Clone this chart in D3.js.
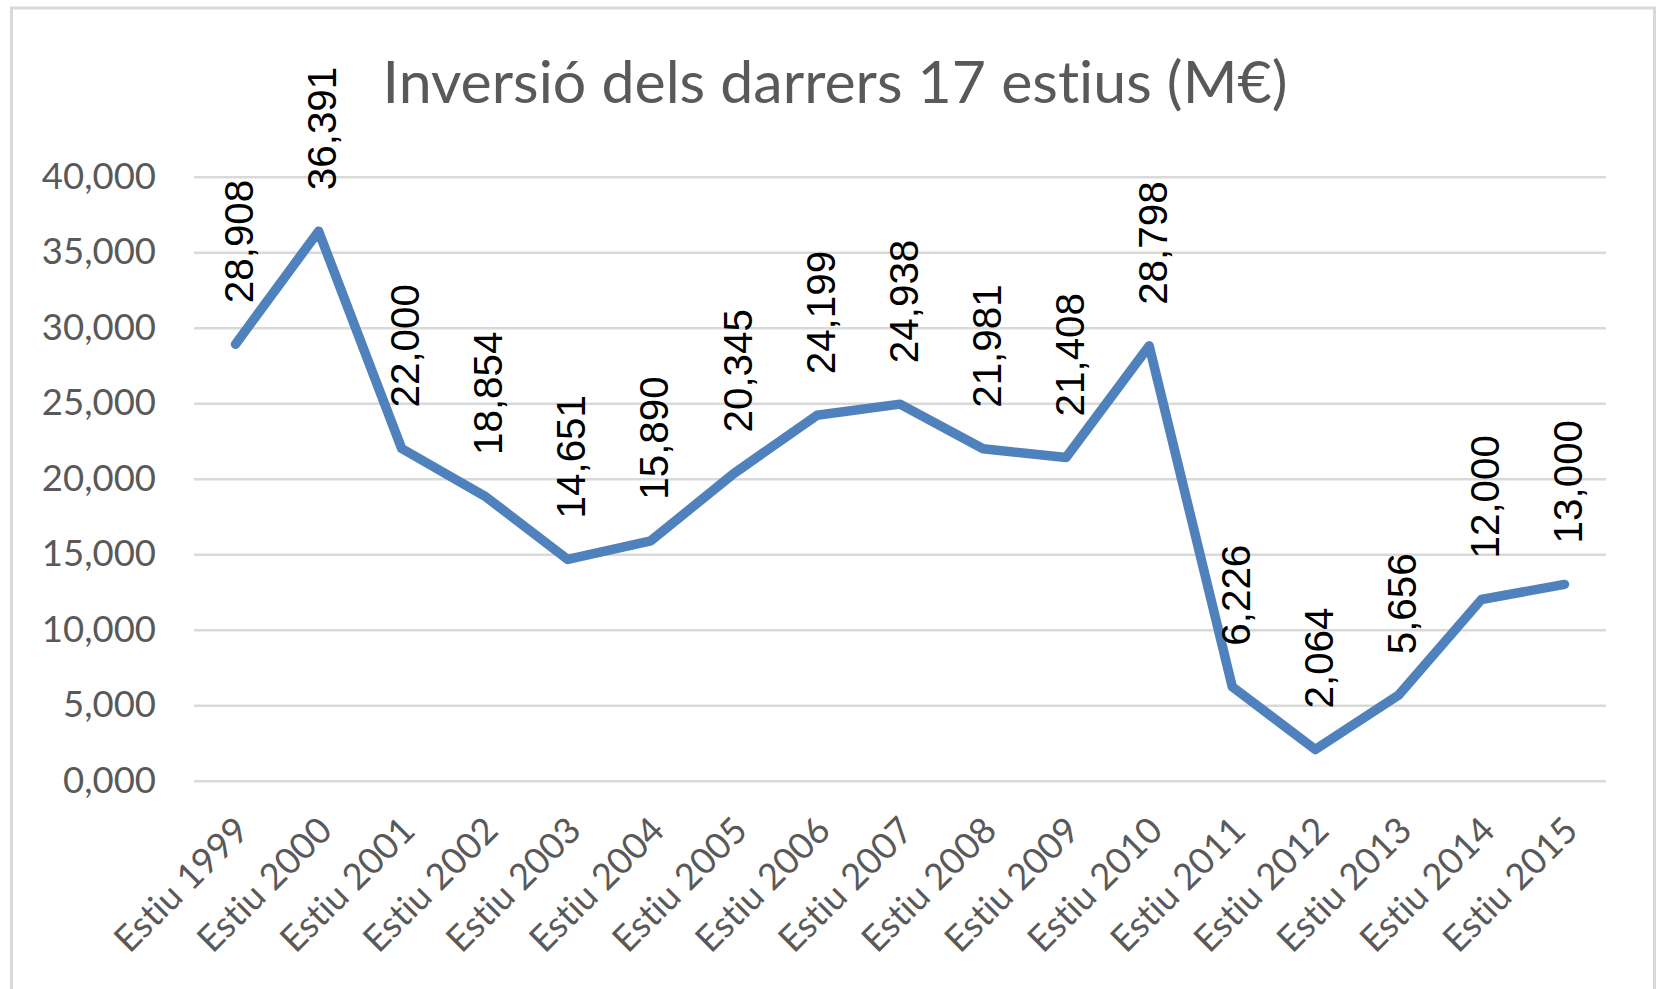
<!DOCTYPE html>
<html>
<head>
<meta charset="utf-8">
<script src="https://cdn.jsdelivr.net/npm/d3@7"></script>
<style>
  html, body { margin: 0; padding: 0; background: #fff; }
  svg { display: block; }
  /* no "ti" ligature, excel draws the letters apart */
  text {
    font-variant-ligatures: none;
    font-feature-settings: "liga" 0, "clig" 0, "dlig" 0, "calt" 0;
    letter-spacing: 0.01px;
  }
</style>
</head>
<body>
<div id="chart"></div>
<script>
  // data (M€)
  var categories = ['Estiu 1999', 'Estiu 2000', 'Estiu 2001', 'Estiu 2002', 'Estiu 2003',
                    'Estiu 2004', 'Estiu 2005', 'Estiu 2006', 'Estiu 2007', 'Estiu 2008',
                    'Estiu 2009', 'Estiu 2010', 'Estiu 2011', 'Estiu 2012', 'Estiu 2013',
                    'Estiu 2014', 'Estiu 2015'];
  var inversio   = [28.908, 36.391, 22.000, 18.854, 14.651, 15.890, 20.345, 24.199, 24.938,
                    21.981, 21.408, 28.798, 6.226, 2.064, 5.656, 12.000, 13.000];
  var yTicks     = [0, 5, 10, 15, 20, 25, 30, 35, 40];
  var titleText  = 'Inversió dels darrers 17 estius (M€)';

  var width  = 1658,
      height = 989;

  var calibri = 'Lato, "Open Sans", sans-serif',
      arial   = '"Liberation Sans", Arial, sans-serif';

  var svg = d3.select('#chart')
              .append('svg')
              .attr('width', width)
              .attr('height', height);

  // excel-style decimal comma
  var fmt = function(d){ return d3.format('.3f')(d).replace('.', ','); };

  // pick a font size so a sample string is the given width
  function fitSize(text, family, target){
    var t = svg.append('text')
               .style('font-family', family)
               .style('font-size', '100px')
               .text(text);
    var w = t.node().getComputedTextLength();
    t.remove();
    return 100 * target / w;
  }

  var titleSize = fitSize(titleText, calibri, 905),
      tickSize  = fitSize('0,000', calibri, 93),
      catSize   = fitSize('Estiu 1999', calibri, 172),
      labelSize = fitSize('2,064', arial, 101);

  // chart area border
  svg.append('rect')
     .attr('x', 11.5)
     .attr('y', 8)
     .attr('width', 1643)
     .attr('height', 1010)
     .attr('fill', 'none')
     .attr('stroke', '#d9d9d9')
     .attr('stroke-width', 3);

  var x = d3.scalePoint()
            .domain(categories)
            .range([194, 1606])
            .padding(0.5);

  var y = d3.scaleLinear()
            .domain([0, 40])
            .range([780.7, 176.7]);

  // y axis + gridlines
  var yAxis = svg.append('g')
                 .attr('transform', 'translate(194,0)')
                 .call(d3.axisLeft(y)
                         .tickValues(yTicks)
                         .tickSize(-1412)
                         .tickPadding(38)
                         .tickFormat(fmt));

  yAxis.select('.domain').remove();
  yAxis.selectAll('line')
       .attr('stroke', '#d9d9d9')
       .attr('stroke-width', 2.5);
  yAxis.selectAll('text')
       .attr('fill', '#595959')
       .style('font-family', calibri)
       .style('font-size', tickSize + 'px');

  // x axis labels, rotated
  var xAxis = svg.append('g')
                 .attr('transform', 'translate(0,780.7)')
                 .call(d3.axisBottom(x).tickSize(0));

  xAxis.select('.domain').remove();
  xAxis.selectAll('text')
       .attr('x', 0)
       .attr('y', 0)
       .attr('dy', '0.35em')
       .attr('text-anchor', 'end')
       .attr('transform', 'translate(6,43) rotate(-45)')
       .attr('fill', '#595959')
       .style('font-family', calibri)
       .style('font-size', catSize + 'px');

  // the line
  var line = d3.line()
               .x(function(d, i){ return x(categories[i]); })
               .y(function(d){ return y(d); });

  svg.append('path')
     .datum(inversio)
     .attr('d', line)
     .attr('fill', 'none')
     .attr('stroke', '#4f81bd')
     .attr('stroke-width', 9.5)
     .attr('stroke-linejoin', 'round')
     .attr('stroke-linecap', 'round');

  // value labels, vertical
  svg.selectAll('text.val')
     .data(inversio)
     .enter()
     .append('text')
     .attr('class', 'val')
     .attr('transform', function(d, i){
       return 'translate(' + (x(categories[i]) + 3.5) + ',' + (y(d) - 41) + ') rotate(-90)';
     })
     .attr('dy', '0.35em')
     .attr('text-anchor', 'start')
     .attr('fill', '#000')
     .style('font-family', arial)
     .style('font-size', labelSize + 'px')
     .text(fmt);

  // title
  svg.append('text')
     .attr('x', 835)
     .attr('y', 102.6)
     .attr('text-anchor', 'middle')
     .attr('fill', '#595959')
     .style('font-family', calibri)
     .style('font-size', titleSize + 'px')
     .text(titleText);
</script>
</body>
</html>
